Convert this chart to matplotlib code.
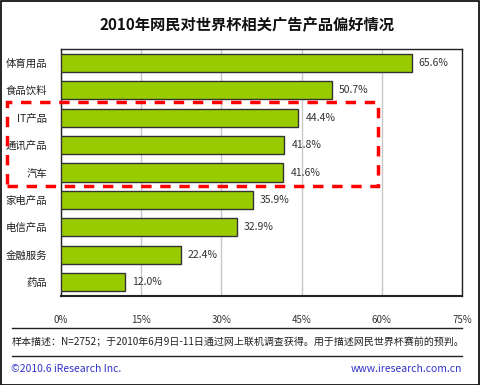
import matplotlib
matplotlib.use('Agg')
import matplotlib.pyplot as plt
from matplotlib.patches import Rectangle

plt.rcParams['font.family'] = ['Noto Sans CJK SC', 'DejaVu Sans']

# data
categories = ['体育用品', '食品饮料', 'IT产品', '通讯产品', '汽车', '家电产品', '电信产品', '金融服务', '药品']
values = [65.6, 50.7, 44.4, 41.8, 41.6, 35.9, 32.9, 22.4, 12.0]
xticks = [0, 15, 30, 45, 60, 75]
xtick_labels = ['0%', '15%', '30%', '45%', '60%', '75%']

fig = plt.figure(figsize=(4.8, 3.85), dpi=100)
W, H = 480, 385
ax = fig.add_axes([61 / W, 1 - 296 / H, (462 - 61) / W, (296 - 49) / H])

y = list(range(len(categories)))
ax.barh(y, values, height=0.66, color='#99CC00', edgecolor='#333333', linewidth=1.0, zorder=3)
for yi, v in zip(y, values):
    ax.text(v + 1.3, yi, '%.1f%%' % v, va='center', ha='left', fontsize=7.5, color='#333333')

ax.set_xlim(0, 75)
ax.set_ylim(len(categories) - 0.5, -0.5)
ax.set_yticks(y)
ax.set_yticklabels(categories, fontsize=7.5, color='#222222')
ax.set_xticks(xticks)
ax.set_xticklabels(xtick_labels, fontsize=7, color='#333333')
ax.tick_params(length=0)
ax.tick_params(axis='x', pad=14)
ax.tick_params(axis='y', pad=10)
ax.grid(axis='x', color='#c8c8c8', linewidth=1, zorder=0)
for s in ax.spines.values():
    s.set_color('#222222')
    s.set_linewidth(1)
ax.spines['bottom'].set_linewidth(1.5)

fig.text(247 / W, 1 - 25 / H, '2010年网民对世界杯相关广告产品偏好情况', ha='center', va='center',
         fontsize=11, fontweight='bold', color='#111111')

# red dashed highlight box
fig.add_artist(Rectangle((7 / W, 1 - 186 / H), (378 - 7) / W, (186 - 102) / H,
                         transform=fig.transFigure, fill=False, edgecolor='#ff0000',
                         linewidth=2.5, linestyle=(0, (3, 2.5)), zorder=10))

# footer lines and text
for yy in (328, 356):
    fig.add_artist(plt.Line2D([12 / W, 462 / W], [1 - yy / H, 1 - yy / H],
                              transform=fig.transFigure, color='#222222', linewidth=1))
fig.text(12 / W, 1 - 342 / H, '样本描述：N=2752；于2010年6月9日-11日通过网上联机调查获得。用于描述网民世界杯赛前的预判。',
         ha='left', va='center', fontsize=7.2, color='#222222')
fig.text(11 / W, 1 - 369 / H, '©2010.6 iResearch Inc.', ha='left', va='center', fontsize=7.5, color='#3333cc')
fig.text(462 / W, 1 - 369 / H, 'www.iresearch.com.cn', ha='right', va='center', fontsize=7.5, color='#3333cc')

# outer border
fig.add_artist(Rectangle((0.5 / W, 0.5 / H), 1 - 1.5 / W, 1 - 1.5 / H, transform=fig.transFigure,
                         fill=False, edgecolor='#000000', linewidth=1.2))

fig.savefig('out.png', dpi=100)
